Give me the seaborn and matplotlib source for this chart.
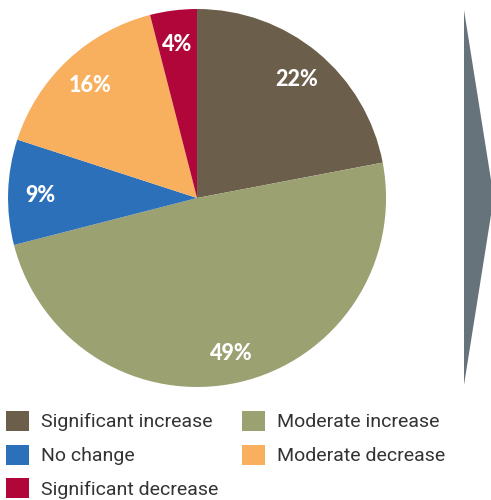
import numpy as np
import pandas as pd
import matplotlib
matplotlib.use("Agg")
import matplotlib.pyplot as plt
import seaborn as sns
from matplotlib.patches import Patch, Polygon

categories = ["Significant increase", "Moderate increase", "No change",
              "Moderate decrease", "Significant decrease"]
shares = [22, 49, 9, 16, 4]
colors = ["#6b5e4b", "#9ca172", "#2d70ba", "#f8b05f", "#b1063a"]

sns.set_theme(style="white")
plt.rcParams["font.family"] = ["Roboto", "DejaVu Sans"]

fig = plt.figure(figsize=(4.91, 5.0), dpi=100)
ax = fig.add_axes([0.0163, 0.226, 0.77, 0.756])

wedges, texts, autotexts = ax.pie(
    shares, colors=colors, startangle=90, counterclock=False,
    autopct="%d%%", pctdistance=0.83,
    wedgeprops=dict(linewidth=0),
    textprops=dict(color="white", fontsize=15.5, fontweight="black",
                   family=["Lato", "DejaVu Sans"]))
for t in autotexts:
    t.set_va("center_baseline")
ax.set_xlim(-1, 1)
ax.set_ylim(-1, 1)
ax.set_aspect("equal")
ax.axis("off")

# grey arrow on the right
arrow = Polygon([(464 / 491, 1 - 10 / 500), (491 / 491, 1 - 180 / 500),
                 (491 / 491, 1 - 215 / 500), (464 / 491, 1 - 385 / 500)],
                closed=True, transform=fig.transFigure, facecolor="#67737a",
                edgecolor="none")
fig.patches.append(arrow)

order = [0, 2, 4, 1, 3]
handles = [Patch(facecolor=colors[i], edgecolor="none", label=categories[i]) for i in order]
leg = fig.legend(handles=handles, loc="upper left", bbox_to_anchor=(0.0, 0.19),
                 ncol=2, frameon=False, fontsize=14, handlelength=1.2,
                 handleheight=1.2, handletextpad=0.6, columnspacing=1.2,
                 labelspacing=0.68, borderaxespad=0, borderpad=0.3)
for t in leg.get_texts():
    t.set_color("#333333")

fig.savefig("out.png", dpi=100)
